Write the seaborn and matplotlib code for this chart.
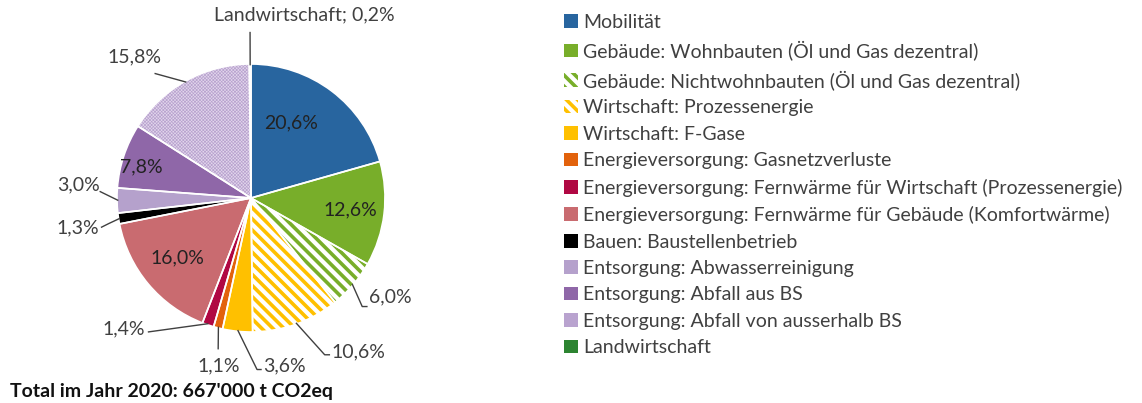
import numpy as np
import matplotlib
matplotlib.use("Agg")
import matplotlib.pyplot as plt
import seaborn as sns

# data (percent of total CO2eq 2020)
categories = [
    "Mobilität",
    "Gebäude: Wohnbauten (Öl und Gas dezentral)",
    "Gebäude: Nichtwohnbauten (Öl und Gas dezentral)",
    "Wirtschaft: Prozessenergie",
    "Wirtschaft: F-Gase",
    "Energieversorgung: Gasnetzverluste",
    "Energieversorgung: Fernwärme für Wirtschaft (Prozessenergie)",
    "Energieversorgung: Fernwärme für Gebäude (Komfortwärme)",
    "Bauen: Baustellenbetrieb",
    "Entsorgung: Abwasserreinigung",
    "Entsorgung: Abfall aus BS",
    "Entsorgung: Abfall von ausserhalb BS",
    "Landwirtschaft",
]
shares = [20.6, 12.6, 6.0, 10.6, 3.6, 1.1, 1.4, 16.0, 1.3, 3.0, 7.8, 15.8, 0.2]
colors = ["#28659F", "#78AE2A", "#78AE2A", "#FFC000", "#FFC000", "#E2620C",
          "#B00843", "#C96B70", "#000000", "#B5A1CC", "#8F67A8", "#B9A3CF", "#2C8431"]
hatches = [None, None, "\\\\\\", "\\\\\\", None, None, None, None, None, None, None, "xxxxxxxxxx", None]
total_text = "Total im Jahr 2020: 667'000 t CO2eq"

sns.set_style("white")
plt.rcParams["font.family"] = ["Lato", "DejaVu Sans"]
plt.rcParams["hatch.linewidth"] = 2.6

W, H = 1142, 403
fig = plt.figure(figsize=(W / 100, H / 100), dpi=100)
cx, cy, R = 251, 198, 134
ax = fig.add_axes([(cx - R) / W, (H - cy - R) / H, 2 * R / W, 2 * R / H])

wedges, _ = ax.pie(shares, colors=colors, startangle=90, counterclock=False,
                   radius=1.0, wedgeprops=dict(linewidth=0))
for w, c, h in zip(wedges, colors, hatches):
    if h:
        w.set_facecolor("white")
        w.set_edgecolor(c)
        w.set_hatch(h)
        if h.startswith("x"):
            w.set_facecolor("#E2D7EC")
            if hasattr(w, "set_hatch_linewidth"):
                w.set_hatch_linewidth(0.5)
# white separators
ax.pie(shares, colors=["none"] * len(shares), startangle=90, counterclock=False,
       radius=1.0, wedgeprops=dict(linewidth=1.2, edgecolor="white", facecolor="none"))
ax.set_xlim(-1, 1)
ax.set_ylim(-1, 1)
ax.set_aspect("equal")
ax.axis("off")

# mid angles of wedges
theta = [np.deg2rad((w.theta1 + w.theta2) / 2) for w in wedges]
lab = ["{:.1f}%".format(v).replace(".", ",") for v in shares]
fs = 14

# inside labels: index -> text position
inside = {0: (0.30, 0.56), 1: (0.74, -0.09), 7: (-0.55, -0.45), 10: (-0.82, 0.23)}
for i, (x, y) in inside.items():
    ax.text(x, y, lab[i], ha="center", va="center", fontsize=fs, color="#222222")

# outside labels: index -> (elbow points, text pos, ha)
outside = {
    11: ([(-0.72, 0.93)], (-0.87, 1.05), "center"),
    9: ([(-1.13, 0.05)], (-1.13, 0.10), "right"),
    8: ([(-1.06, -0.19), (-1.12, -0.22)], (-1.13, -0.22), "right"),
    6: ([(-0.77, -1.0)], (-0.79, -0.98), "right"),
    5: ([(-0.245, -1.13)], (-0.24, -1.25), "center"),
    4: ([(0.045, -1.28), (0.08, -1.28)], (0.09, -1.25), "left"),
    3: ([(0.55, -1.17), (0.59, -1.17)], (0.60, -1.15), "left"),
    2: ([(0.83, -0.81), (0.87, -0.81)], (0.88, -0.74), "left"),
    12: ([(-0.007, 1.24)], (0.40, 1.37), "center"),
}
for i, (pts, (tx, ty), ha) in outside.items():
    ex, ey = np.cos(theta[i]) * 0.99, np.sin(theta[i]) * 0.99
    xs = [ex] + [p[0] for p in pts]
    ys = [ey] + [p[1] for p in pts]
    ax.plot(xs, ys, color="#404040", lw=1.0, clip_on=False, solid_capstyle="butt")
    txt = lab[i] if i != 12 else categories[i] + "; " + lab[i]
    ax.text(tx, ty, txt, ha=ha, va="center", fontsize=fs, color="#404040", clip_on=False)

fig.text(10 / W, 1 - 392 / H, total_text, fontsize=14, fontweight="bold",
         ha="left", va="center", color="#111111")

leg = fig.legend(wedges, categories, loc="upper left", bbox_to_anchor=(564 / W, 1 - 14 / H),
                 frameon=False, fontsize=fs, handlelength=0.7, handleheight=0.7,
                 handletextpad=0.3, labelspacing=0.485, borderaxespad=0, borderpad=0)
for t in leg.get_texts():
    t.set_color("#404040")

fig.savefig("out.png", dpi=100)
